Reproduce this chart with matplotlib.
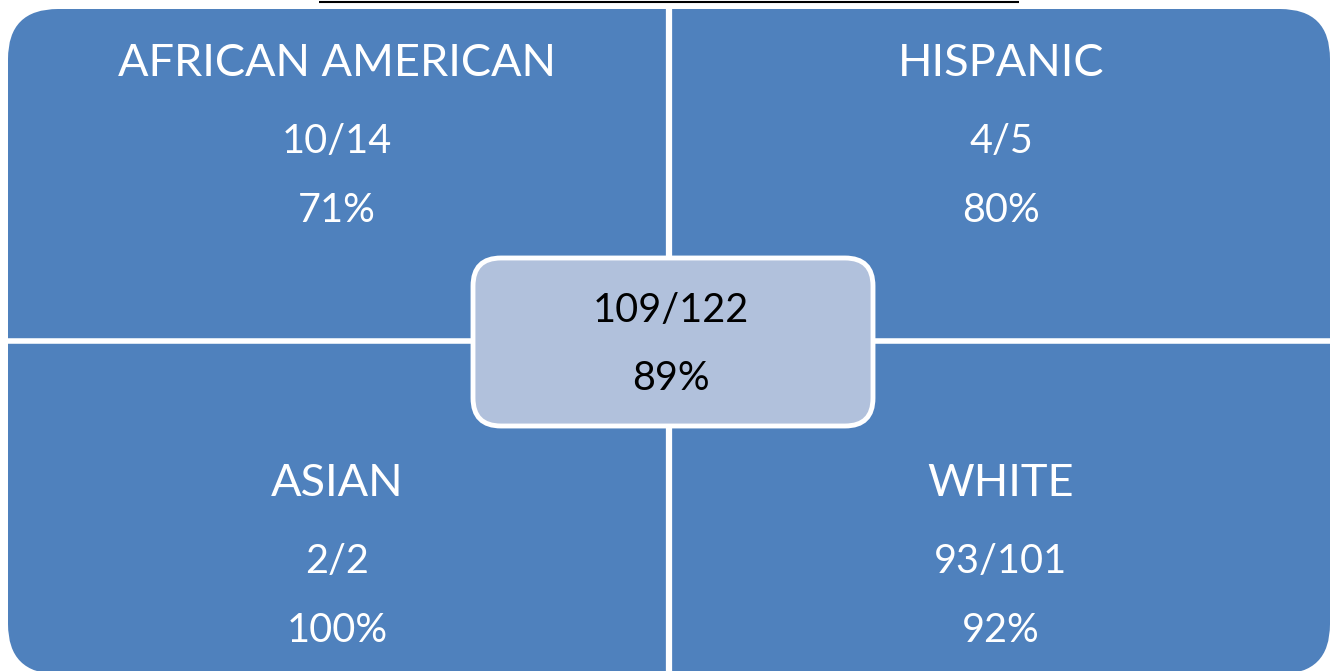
import matplotlib
matplotlib.use("Agg")
import matplotlib.pyplot as plt
from matplotlib.patches import FancyBboxPatch

# data
groups = ["AFRICAN AMERICAN", "HISPANIC", "ASIAN", "WHITE"]
passed = [10, 4, 2, 93]
totals = [14, 5, 2, 101]
percents = [71, 80, 100, 92]
overall_passed = 109
overall_total = 122
overall_percent = 89

plt.rcParams['font.family'] = ['Lato', 'DejaVu Sans']

W, H = 1333, 671
fig = plt.figure(figsize=(W / 100, H / 100), dpi=100)
ax = fig.add_axes([0, 0, 1, 1])
ax.set_xlim(0, W)
ax.set_ylim(H, 0)
ax.axis('off')

blue = '#4f81bd'
light = '#b1c1dc'

# outer rounded block
left, top, right, bottom = 8, 9, 1330, 674
ax.add_patch(FancyBboxPatch((left, top), right - left, bottom - top,
                            boxstyle="round,pad=0,rounding_size=50",
                            fc=blue, ec='none', zorder=1))

mid_x, mid_y = 669, 341
ax.plot([mid_x, mid_x], [top, bottom], color='white', lw=4.5, zorder=2,
        solid_capstyle='butt')
ax.plot([left, right], [mid_y, mid_y], color='white', lw=4, zorder=2,
        solid_capstyle='butt')

# black rule at the top
ax.plot([319, 1019], [1.5, 1.5], color='black', lw=1.5, zorder=3,
        solid_capstyle='butt')

# quadrant texts
centers_x = [337, 1001, 337, 1001]
rows_y = [(60, 138, 207), (60, 138, 207), (480, 558, 627), (480, 558, 627)]
for i, g in enumerate(groups):
    cx = centers_x[i]
    y1, y2, y3 = rows_y[i]
    ax.text(cx, y1, g, color='white', fontsize=32.5, ha='center', va='center_baseline', zorder=4)
    ax.text(cx, y2, f"{passed[i]}/{totals[i]}", color='white', fontsize=28.5,
            ha='center', va='center_baseline', zorder=4)
    ax.text(cx, y3, f"{percents[i]}%", color='white', fontsize=28.5,
            ha='center', va='center_baseline', zorder=4)

# center box
ax.add_patch(FancyBboxPatch((473, 258), 400, 168,
                            boxstyle="round,pad=0,rounding_size=28",
                            fc=light, ec='white', lw=3.5, zorder=5))
ax.text(671, 307, f"{overall_passed}/{overall_total}", color='black', fontsize=28.5,
        ha='center', va='center_baseline', zorder=6)
ax.text(671, 375, f"{overall_percent}%", color='black', fontsize=28.5,
        ha='center', va='center_baseline', zorder=6)

fig.savefig('out.png', dpi=100, facecolor='white')
